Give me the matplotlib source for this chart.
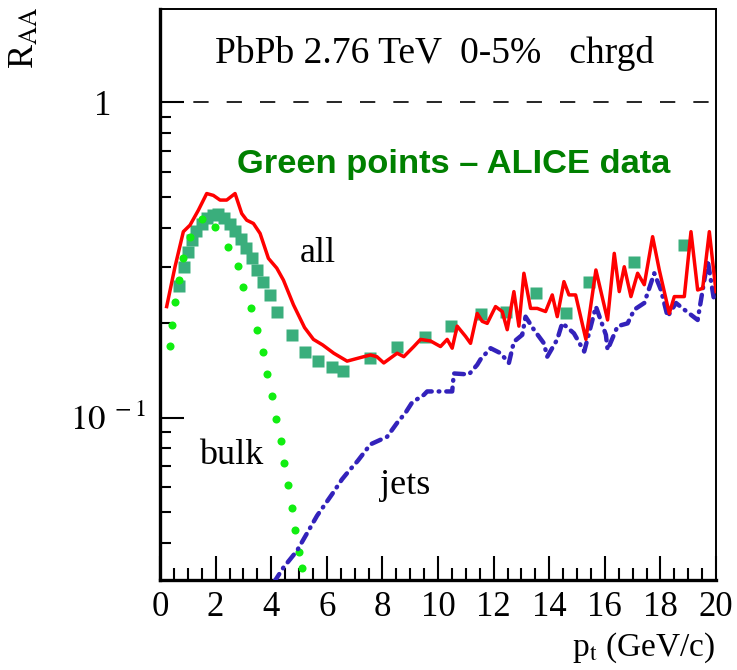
import numpy as np
import matplotlib
matplotlib.use("Agg")
import matplotlib.pyplot as plt
from matplotlib.ticker import FixedLocator, FixedFormatter, NullFormatter
from matplotlib.transforms import ScaledTranslation

plt.rcParams['font.family'] = ['Liberation Serif', 'DejaVu Serif']
plt.rcParams['mathtext.fontset'] = 'stix'
plt.rcParams['lines.scale_dashes'] = False

# ALICE data (green squares)
alice_pt = [0.70, 0.85, 1.00, 1.15, 1.30, 1.50, 1.70, 1.90, 2.10, 2.30, 2.50, 2.70,
            2.90, 3.10, 3.30, 3.50, 3.70, 3.95, 4.20, 4.75, 5.23, 5.70, 6.19, 6.60,
            7.54, 8.53, 9.55, 10.45, 11.55, 12.43, 13.51, 14.60, 15.43, 17.06, 18.86]
alice_raa = [0.262, 0.300, 0.335, 0.365, 0.390, 0.412, 0.430, 0.440, 0.442, 0.430, 0.412, 0.392,
             0.368, 0.345, 0.320, 0.295, 0.270, 0.245, 0.217, 0.183, 0.162, 0.151, 0.145, 0.140,
             0.154, 0.167, 0.180, 0.195, 0.213, 0.216, 0.248, 0.214, 0.270, 0.312, 0.353]

# bulk (green dots)
bulk_pt = [0.36, 0.42, 0.54, 0.70, 0.84, 1.08, 1.50, 1.98, 2.43, 2.79, 3.00, 3.27,
           3.48, 3.72, 3.85, 4.02, 4.18, 4.36, 4.47, 4.60, 4.75, 4.87, 5.01, 5.10]
bulk_raa = [0.169, 0.197, 0.232, 0.273, 0.320, 0.375, 0.428, 0.403, 0.348, 0.303, 0.259, 0.222,
            0.189, 0.161, 0.137, 0.117, 0.099, 0.084, 0.0715, 0.061, 0.0518, 0.044, 0.0375, 0.0332]

# all (red line)
all_pt = [0.24, 0.54, 0.84, 1.08, 1.38, 1.68, 1.92, 2.16, 2.40, 2.70, 2.94, 3.12,
          3.36, 3.60, 3.90, 4.20, 4.44, 4.80, 5.20, 5.52, 5.85, 6.25, 6.73, 7.21,
          7.57, 7.80, 8.05, 8.53, 8.77, 9.13, 9.37, 9.73, 10.09, 10.33, 10.51, 10.69,
          10.99, 11.17, 11.41, 11.59, 11.77, 12.07, 12.31, 12.49, 12.73, 12.91, 13.09, 13.33,
          13.57, 13.87, 14.11, 14.29, 14.53, 14.71, 14.95, 15.32, 15.68, 16.10, 16.34, 16.52,
          16.70, 16.94, 17.18, 17.42, 17.72, 17.96, 18.32, 18.50, 18.86, 19.10, 19.34, 19.52,
          19.76, 20.00]
all_raa = [0.225, 0.301, 0.389, 0.408, 0.455, 0.514, 0.507, 0.490, 0.490, 0.514, 0.444, 0.423,
           0.413, 0.384, 0.320, 0.298, 0.273, 0.228, 0.193, 0.177, 0.170, 0.160, 0.151, 0.155,
           0.158, 0.156, 0.149, 0.160, 0.156, 0.168, 0.177, 0.175, 0.168, 0.177, 0.166, 0.195,
           0.181, 0.172, 0.214, 0.202, 0.199, 0.225, 0.217, 0.190, 0.251, 0.195, 0.287, 0.222,
           0.222, 0.217, 0.245, 0.209, 0.270, 0.245, 0.245, 0.177, 0.294, 0.204, 0.332, 0.251,
           0.301, 0.242, 0.287, 0.264, 0.375, 0.294, 0.214, 0.242, 0.242, 0.389, 0.254, 0.257,
           0.389, 0.251]

# jets (blue dash-dot)
jets_pt = [4.10, 4.44, 4.93, 5.34, 5.65, 6.19, 6.55, 6.79, 7.11, 7.57, 8.17, 8.53,
           8.83, 9.07, 9.49, 9.61, 10.09, 10.51, 10.57, 11.11, 11.41, 11.53, 11.89, 12.25,
           12.55, 12.73, 13.03, 13.15, 13.45, 13.81, 13.93, 14.29, 14.47, 14.89, 15.26, 15.68,
           16.04, 16.10, 16.46, 16.82, 17.06, 17.42, 17.78, 18.02, 18.26, 18.56, 18.86, 19.34,
           19.70, 19.94]
jets_raa = [0.0300, 0.0334, 0.0378, 0.0437, 0.0488, 0.0571, 0.0637, 0.0676, 0.0728, 0.0822, 0.0869, 0.0962,
            0.1035, 0.1117, 0.118, 0.121, 0.121, 0.121, 0.138, 0.137, 0.147, 0.153, 0.166, 0.160,
            0.149, 0.174, 0.183, 0.209, 0.190, 0.172, 0.156, 0.177, 0.1995, 0.185, 0.162, 0.225,
            0.183, 0.164, 0.195, 0.199, 0.220, 0.231, 0.287, 0.254, 0.209, 0.231, 0.220, 0.204,
            0.316, 0.233]

y_ticks = [0.1, 1.0]
y_labels = [r'$10^{\ -1}$', '1']
x_ticks = [0, 2, 4, 6, 8, 10, 12, 14, 16, 18, 20]

fig = plt.figure(figsize=(7.37, 6.70), dpi=100)
ax = fig.add_axes([160/737, 90/670, 556/737, 571/670])

ax.axhline(1.0, color='black', lw=1.2, linestyle=(0, (11, 13)), zorder=1)

ax.plot(alice_pt, alice_raa, linestyle='none', marker='s', ms=9,
        color='#3aae7c', mec='none', zorder=2)
ax.plot(bulk_pt, bulk_raa, linestyle='none', marker='o', ms=5.8,
        color='#11ee11', mec='none', zorder=3)
ax.plot(jets_pt, jets_raa, color='#3322bb', lw=3.2,
        linestyle=(0, (7, 5, 0.5, 5)), dash_capstyle='round', zorder=4)
ax.plot(all_pt, all_raa, color='#ff0000', lw=2.5, zorder=5)

ax.set_yscale('log')
ax.set_xlim(0, 20)
ax.set_ylim(0.0305, 1.98)

ax.xaxis.set_major_locator(FixedLocator(x_ticks))
ax.xaxis.set_minor_locator(FixedLocator(np.arange(0, 20.01, 0.5)))
ax.yaxis.set_major_locator(FixedLocator(y_ticks))
ax.yaxis.set_major_formatter(FixedFormatter(y_labels))
ax.yaxis.set_minor_locator(FixedLocator([0.04, 0.05, 0.06, 0.07, 0.08, 0.09,
                                         0.2, 0.3, 0.4, 0.5, 0.6, 0.7, 0.8, 0.9]))
ax.yaxis.set_minor_formatter(NullFormatter())

ax.tick_params(which='both', direction='in', top=False, right=False, width=1.5, colors='black')
ax.tick_params(axis='x', which='major', length=17, pad=8, labelsize=25)
ax.tick_params(axis='x', which='minor', length=9)
ax.tick_params(axis='y', which='major', length=17, pad=10, labelsize=25)
ax.tick_params(axis='y', which='minor', length=8)

for lbl in ax.get_yticklabels():
    if lbl.get_text() == '1':
        lbl.set_transform(lbl.get_transform() + ScaledTranslation(-25/72, 0, fig.dpi_scale_trans))

ax.spines['left'].set_linewidth(2.4)
ax.spines['bottom'].set_linewidth(2.4)
ax.spines['top'].set_linewidth(1.4)
ax.spines['right'].set_linewidth(1.4)

ax.text(0.099, 0.905, 'PbPb 2.76 TeV  0-5%   chrgd', transform=ax.transAxes,
        fontsize=27, ha='left', va='baseline')
ax.text(0.138, 0.713, 'Green points \u2013 ALICE data', transform=ax.transAxes,
        fontsize=24.8, ha='left', va='baseline', color='#008000', fontweight='bold',
        family=['Liberation Sans', 'DejaVu Sans'])
ax.text(5.01, 0.312, 'all', fontsize=26, ha='left', va='baseline')
ax.text(1.42, 0.071, 'bulk', fontsize=26, ha='left', va='baseline')
ax.text(7.93, 0.0571, 'jets', fontsize=26, ha='left', va='baseline')

fig.text(25/737, 1 - 6/670, r'R$_{\rm AA}$', rotation=90, fontsize=26, ha='center', va='top')
fig.text(715/737, 14/670, r'p$_{\rm t}$ (GeV/c)', fontsize=24, ha='right', va='baseline')

fig.savefig('out.png', dpi=100)
